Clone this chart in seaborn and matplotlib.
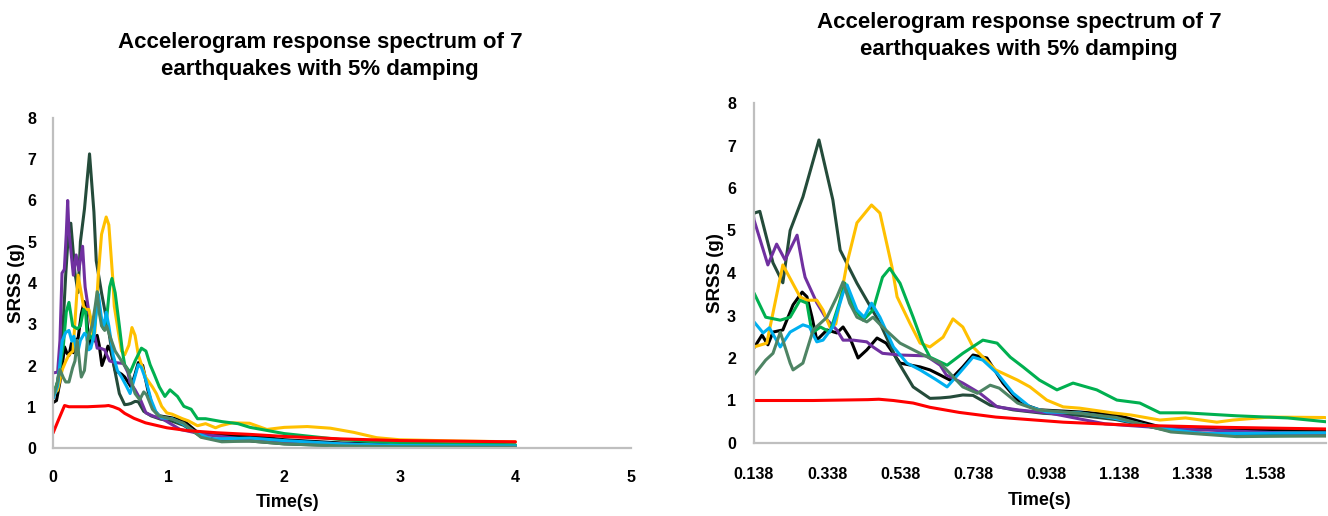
import numpy as np
import pandas as pd
import matplotlib
matplotlib.use("Agg")
import matplotlib.pyplot as plt
import seaborn as sns

# ---- data (period in s, SRSS in g) ----
black_t = [0, 0.03, 0.06, 0.08, 0.10, 0.12, 0.138, 0.16, 0.176, 0.19, 0.217, 0.245, 0.27, 0.283, 0.297,
           0.31, 0.338, 0.365, 0.382, 0.40, 0.423, 0.447, 0.475, 0.50, 0.538, 0.593, 0.62, 0.648, 0.675,
           0.71, 0.738, 0.776, 0.82, 0.867, 0.92, 1.03, 1.13, 1.25, 1.415, 1.7, 2.0, 2.5, 3.0, 4.0]
black_v = [1.1, 1.15, 1.6, 2.0, 2.45, 2.3, 2.24, 2.54, 2.31, 2.61, 2.66, 3.25, 3.55, 3.44, 2.96,
           2.42, 2.66, 2.59, 2.73, 2.49, 2.0, 2.19, 2.47, 2.35, 1.88, 1.79, 1.72, 1.6, 1.48,
           1.79, 2.07, 2.0, 1.41, 0.94, 0.78, 0.73, 0.66, 0.38, 0.31, 0.3, 0.2, 0.12, 0.08, 0.05]

slate_t = [0, 0.04, 0.08, 0.11, 0.138, 0.154, 0.19, 0.217, 0.237, 0.272, 0.316, 0.354, 0.374, 0.42,
           0.483, 0.53, 0.574, 0.62, 0.648, 0.675, 0.71, 0.738, 0.785, 0.848, 0.93, 1.03, 1.13, 1.28,
           1.46, 1.7, 2.0, 2.5, 3.0, 4.0]
slate_v = [1.2, 1.6, 2.6, 4.2, 5.41, 5.45, 4.24, 3.77, 5.0, 5.79, 7.13, 5.72, 4.54, 3.76,
           2.82, 1.95, 1.32, 1.05, 1.06, 1.08, 1.13, 1.12, 0.89, 0.78, 0.7, 0.65, 0.55, 0.28,
           0.18, 0.17, 0.1, 0.05, 0.03, 0.02]

purple_t = [0, 0.04, 0.06, 0.078, 0.098, 0.115, 0.127, 0.138, 0.176, 0.2, 0.223, 0.256, 0.272, 0.278,
            0.31, 0.338, 0.365, 0.382, 0.41, 0.447, 0.464, 0.49, 0.538, 0.61, 0.648, 0.665, 0.71,
            0.757, 0.804, 0.86, 0.95, 1.1, 1.3, 1.7, 2.0, 2.5, 3.0, 4.0]
purple_v = [1.82, 1.84, 2.6, 4.24, 4.33, 5.2, 6.0, 5.25, 4.19, 4.68, 4.31, 4.89, 4.14, 3.9,
            3.3, 2.9, 2.66, 2.42, 2.42, 2.38, 2.26, 2.11, 2.07, 2.05, 1.83, 1.6, 1.41,
            1.17, 0.85, 0.78, 0.7, 0.45, 0.33, 0.2, 0.15, 0.1, 0.05, 0.03]

yellow_t = [0, 0.04, 0.08, 0.11, 0.138, 0.173, 0.217, 0.264, 0.283, 0.31, 0.327, 0.346, 0.362, 0.393,
            0.42, 0.46, 0.483, 0.516, 0.53, 0.565, 0.593, 0.62, 0.656, 0.683, 0.71, 0.738, 0.80, 0.86,
            0.894, 0.94, 0.985, 1.03, 1.12, 1.17, 1.25, 1.32, 1.406, 1.45, 1.55, 1.7, 1.85, 2.0, 2.2,
            2.4, 2.6, 2.8, 3.0, 3.5, 4.0]
yellow_v = [1.3, 1.4, 1.9, 2.1, 2.26, 2.35, 4.19, 3.44, 3.36, 3.36, 3.13, 2.73, 2.8, 4.24,
            5.18, 5.6, 5.41, 4.14, 3.44, 2.82, 2.35, 2.26, 2.49, 2.92, 2.73, 2.26, 1.72, 1.48,
            1.32, 1.01, 0.85, 0.82, 0.71, 0.66, 0.54, 0.59, 0.49, 0.54, 0.61, 0.6, 0.45, 0.5, 0.52,
            0.48, 0.38, 0.25, 0.2, 0.17, 0.15]

green_t = [0, 0.04, 0.09, 0.115, 0.138, 0.17, 0.21, 0.237, 0.264, 0.283, 0.297, 0.32, 0.346, 0.374,
           0.387, 0.41, 0.437, 0.464, 0.49, 0.51, 0.538, 0.574, 0.60, 0.62, 0.667, 0.71, 0.765, 0.804,
           0.84, 0.875, 0.92, 0.968, 1.012, 1.077, 1.132, 1.195, 1.25, 1.32, 1.46, 1.6, 1.705, 2.0,
           2.5, 3.0, 4.0]
green_v = [1.3, 1.6, 2.5, 3.3, 3.53, 2.96, 2.89, 2.96, 3.36, 3.29, 2.59, 2.73, 2.61, 3.36,
           3.76, 3.2, 2.89, 3.13, 3.9, 4.11, 3.76, 2.96, 2.35, 2.02, 1.83, 2.11, 2.42, 2.35,
           2.02, 1.79, 1.48, 1.25, 1.41, 1.25, 1.01, 0.94, 0.71, 0.71, 0.64, 0.59, 0.5, 0.35,
           0.2, 0.12, 0.08]

blue_t = [0, 0.04, 0.08, 0.11, 0.138, 0.163, 0.18, 0.21, 0.237, 0.272, 0.29, 0.31, 0.327, 0.354,
          0.382, 0.393, 0.42, 0.44, 0.46, 0.483, 0.52, 0.557, 0.593, 0.635, 0.667, 0.70, 0.738, 0.765,
          0.804, 0.848, 0.894, 0.94, 1.03, 1.12, 1.25, 1.37, 1.705, 2.0, 2.5, 3.0, 4.0]
blue_v = [1.2, 1.5, 2.6, 2.8, 2.85, 2.59, 2.71, 2.26, 2.61, 2.78, 2.73, 2.38, 2.42, 2.73,
          3.53, 3.72, 3.13, 2.96, 3.29, 2.96, 2.26, 1.88, 1.72, 1.5, 1.32, 1.64, 2.02, 1.95,
          1.64, 1.17, 0.85, 0.73, 0.71, 0.59, 0.35, 0.22, 0.24, 0.18, 0.1, 0.06, 0.05]

sage_t = [0, 0.03, 0.06, 0.09, 0.11, 0.138, 0.17, 0.19, 0.21, 0.237, 0.245, 0.272, 0.30, 0.338,
          0.365, 0.382, 0.40, 0.42, 0.447, 0.464, 0.49, 0.538, 0.593, 0.648, 0.71, 0.75, 0.785, 0.81,
          0.86, 0.913, 1.03, 1.13, 1.28, 1.46, 1.705, 2.0, 2.5, 3.0, 4.0]
sage_v = [1.25, 1.5, 1.9, 1.7, 1.6, 1.6, 1.95, 2.11, 2.61, 1.88, 1.72, 1.88, 2.66, 2.96,
          3.44, 3.79, 3.29, 2.96, 2.85, 2.96, 2.73, 2.35, 2.11, 1.88, 1.32, 1.17, 1.36, 1.29,
          0.94, 0.78, 0.7, 0.6, 0.26, 0.15, 0.17, 0.1, 0.05, 0.03, 0.02]

red_t = [0, 0.05, 0.1, 0.138, 0.3, 0.45, 0.48, 0.52, 0.574, 0.62, 0.70, 0.80, 0.985, 1.17, 1.415,
         1.705, 2.0, 2.5, 3.0, 4.0]
red_v = [0.36, 0.7, 1.03, 1.0, 1.0, 1.02, 1.03, 1.0, 0.94, 0.84, 0.72, 0.61, 0.49, 0.42, 0.37,
         0.33, 0.28, 0.22, 0.18, 0.15]

series = {
    "black": (black_t, black_v),
    "slate": (slate_t, slate_v),
    "purple": (purple_t, purple_v),
    "yellow": (yellow_t, yellow_v),
    "green": (green_t, green_v),
    "blue": (blue_t, blue_v),
    "sage": (sage_t, sage_v),
    "red": (red_t, red_v),
}
colors = {
    "black": "#000000",
    "slate": "#244B3A",
    "purple": "#7030A0",
    "yellow": "#FFC000",
    "green": "#00B050",
    "blue": "#00B0F0",
    "sage": "#4E8464",
    "red": "#FF0000",
}

frames = []
for name, (t, v) in series.items():
    frames.append(pd.DataFrame({"period": t, "srss": v, "quake": name}))
df = pd.concat(frames, ignore_index=True)

right_ticks = [0.138, 0.338, 0.538, 0.738, 0.938, 1.138, 1.338, 1.538]
left_ticks = [0, 1, 2, 3, 4, 5]
y_ticks = [0, 1, 2, 3, 4, 5, 6, 7, 8]
title = "Accelerogram response spectrum of 7\nearthquakes with 5% damping"

sns.set_style("white")
plt.rcParams["font.family"] = ["Liberation Sans", "DejaVu Sans"]
plt.rcParams["font.weight"] = "bold"
for key in ("text.color", "axes.labelcolor", "xtick.color", "ytick.color"):
    plt.rcParams[key] = "black"

W, H = 1328, 516
fig = plt.figure(figsize=(W / 100, H / 100), dpi=100)

def px_axes(x0, x1, ytop, ybot):
    return fig.add_axes([x0 / W, 1 - ybot / H, (x1 - x0) / W, (ybot - ytop) / H])

ax1 = px_axes(53, 631, 118, 448)
ax2 = px_axes(754, 1326, 103, 443)

for ax in (ax1, ax2):
    sns.lineplot(data=df, x="period", y="srss", hue="quake", palette=colors,
                 hue_order=list(series.keys()), estimator=None, sort=False,
                 linewidth=2.2, legend=False, ax=ax)
    ax.set_ylim(0, 8)
    ax.set_yticks(y_ticks)
    for s in ("top", "right"):
        ax.spines[s].set_visible(False)
    for s in ("left", "bottom"):
        ax.spines[s].set_color("#BFBFBF")
        ax.spines[s].set_linewidth(1.6)
    ax.tick_params(length=0, labelsize=11.5, colors="black")
    ax.set_xlabel("Time(s)", fontsize=13, fontweight="bold", color="black")
    ax.set_ylabel("SRSS (g)", fontsize=13.5, fontweight="bold", color="black")

ax1.set_xlim(0, 5)
ax1.set_xticks(left_ticks)
ax1.tick_params(axis="x", pad=16)
ax1.tick_params(axis="y", pad=12)
ax1.xaxis.set_label_coords(0.405, -0.139)
ax1.yaxis.set_label_coords(-0.048, 0.5)

ax2.set_xlim(0.138, 1.705)
ax2.set_xticks(right_ticks)
ax2.set_xticklabels([f"{t:.3f}" for t in right_ticks])
ax2.tick_params(axis="x", pad=17)
ax2.tick_params(axis="y", pad=13)
ax2.xaxis.set_label_coords(0.5, -0.144)
ax2.yaxis.set_label_coords(-0.052, 0.5)

for ax in (ax1, ax2):
    for lab in ax.get_xticklabels() + ax.get_yticklabels():
        lab.set_fontweight("bold")

fig.text(320 / W, 1 - 56 / H, title, ha="center", va="center", fontsize=16,
         fontweight="bold", linespacing=1.4, color="black")
fig.text(1019 / W, 1 - 36 / H, title, ha="center", va="center", fontsize=16,
         fontweight="bold", linespacing=1.4, color="black")

fig.savefig("out.png", dpi=100)
